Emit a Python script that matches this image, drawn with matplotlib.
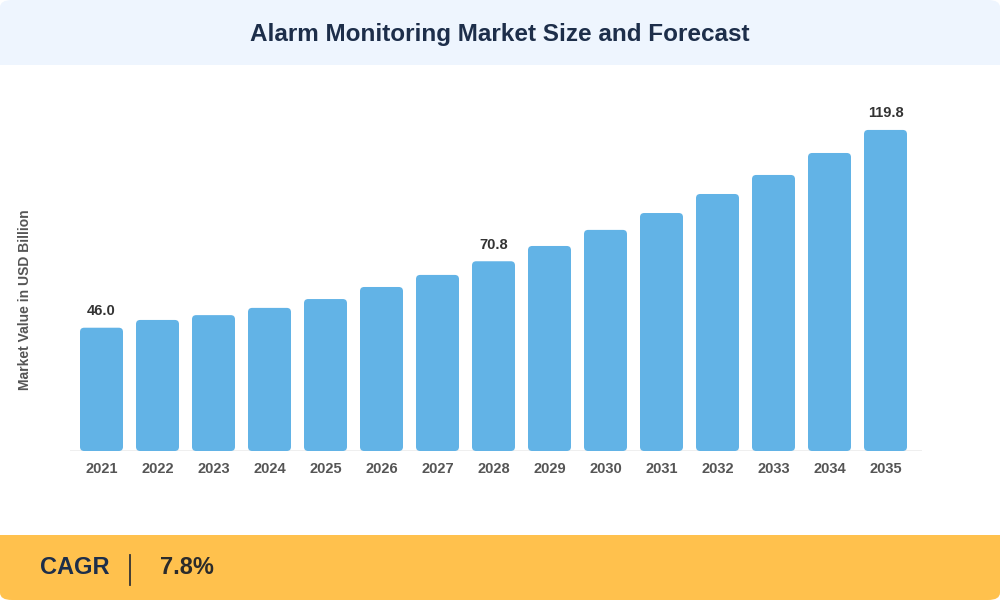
import matplotlib.pyplot as plt
from matplotlib.patches import FancyBboxPatch, Rectangle

# ------------------ datos ------------------
years = ["2021", "2022", "2023", "2024", "2025", "2026", "2027", "2028",
         "2029", "2030", "2031", "2032", "2033", "2034", "2035"]
values = [46.0, 48.9, 50.7, 53.4, 56.7, 61.2, 65.7, 70.8,
          76.5, 82.5, 88.8, 95.9, 103.0, 111.2, 119.8]
labeled_years = ["2021", "2028", "2035"]
title_text = "Alarm Monitoring Market Size and Forecast"
ylabel_text = "Market Value in USD Billion"
cagr_label = "CAGR"
cagr_value = "7.8%"
# -------------------------------------------

BAR_COLOR = "#62B3E6"
TITLE_BG = "#EEF5FE"
CAGR_BG = "#FFC14D"
NAVY = "#1D2E4A"
FONT = ["Liberation Sans", "DejaVu Sans"]

W, H = 1000, 600
fig = plt.figure(figsize=(10, 6), dpi=100)
fig.patch.set_facecolor("white")

# bandas de fondo (coordenadas de figura)
fig.patches.append(FancyBboxPatch((0.0, 1 - 65 / H), 1.0, 65 / H,
                                  boxstyle="round,pad=0,rounding_size=0.012",
                                  transform=fig.transFigure, facecolor=TITLE_BG,
                                  edgecolor="none", zorder=0))
fig.patches.append(Rectangle((0.0, 1 - 65 / H), 1.0, 0.02, transform=fig.transFigure,
                             facecolor=TITLE_BG, edgecolor="none", zorder=0))
fig.patches.append(FancyBboxPatch((0.0, 0.0), 1.0, 65 / H,
                                  boxstyle="round,pad=0,rounding_size=0.012",
                                  transform=fig.transFigure, facecolor=CAGR_BG,
                                  edgecolor="none", zorder=0))
fig.patches.append(Rectangle((0.0, 65 / H - 0.02), 1.0, 0.02, transform=fig.transFigure,
                             facecolor=CAGR_BG, edgecolor="none", zorder=0))

fig.text(0.5, 1 - 34 / H, title_text, ha="center", va="center", fontsize=17.5,
         fontweight="bold", color=NAVY, family=FONT)

fig.text(40 / W, 1 - 567 / H, cagr_label, ha="left", va="center", fontsize=17,
         fontweight="bold", color=NAVY, family=FONT)
fig.add_artist(plt.Line2D([130 / W, 130 / W], [1 - 555 / H, 1 - 585 / H],
                          transform=fig.transFigure, color="#333333", lw=1.3))
fig.text(160 / W, 1 - 567 / H, cagr_value, ha="left", va="center", fontsize=17,
         fontweight="bold", color="#2B2B2B", family=FONT)

# ejes: base en y=451 px, 56 px por barra, primera barra centrada en x=101.5
px_x = 56.0
px_y = 2.68
ax_left, ax_right = 70, 922
ax_bottom, ax_top = 451, 95
ax = fig.add_axes([ax_left / W, 1 - ax_bottom / H,
                   (ax_right - ax_left) / W, (ax_bottom - ax_top) / H])
ax.set_xlim((ax_left - 101.5) / px_x, (ax_right - 101.5) / px_x)
ax.set_ylim(0, (ax_bottom - ax_top) / px_y)
ax.set_facecolor("none")

x = list(range(len(years)))
bw = 43 / px_x
bars = ax.bar(x, values, width=bw, color=BAR_COLOR)
aspect = px_x / px_y
for b in bars:
    b.remove()
    ax.add_patch(FancyBboxPatch((b.get_x(), b.get_y()), b.get_width(), b.get_height(),
                                boxstyle="round,pad=0,rounding_size=0.075",
                                mutation_aspect=aspect, facecolor=BAR_COLOR,
                                edgecolor="none", zorder=2))

for xi, yr, v in zip(x, years, values):
    if yr in labeled_years:
        ax.text(xi, v + 3.6, f"{v:.1f}", ha="center", va="bottom", fontsize=10.5,
                fontweight="bold", color="#333333", family=FONT)

ax.axhline(0, color="#EEEEEE", lw=2, zorder=1)
for s in ax.spines.values():
    s.set_visible(False)
ax.set_yticks([])
ax.set_xticks(x)
ax.set_xticklabels(years, fontsize=10.5, fontweight="bold", color="#555555", family=FONT)
ax.tick_params(axis="x", length=0, pad=8)

fig.text(25 / W, 1 - 300 / H, ylabel_text, rotation=90, ha="center", va="center",
         fontsize=10, fontweight="bold", color="#555555", family=FONT)

fig.savefig("out.png", dpi=100, facecolor=fig.get_facecolor())
